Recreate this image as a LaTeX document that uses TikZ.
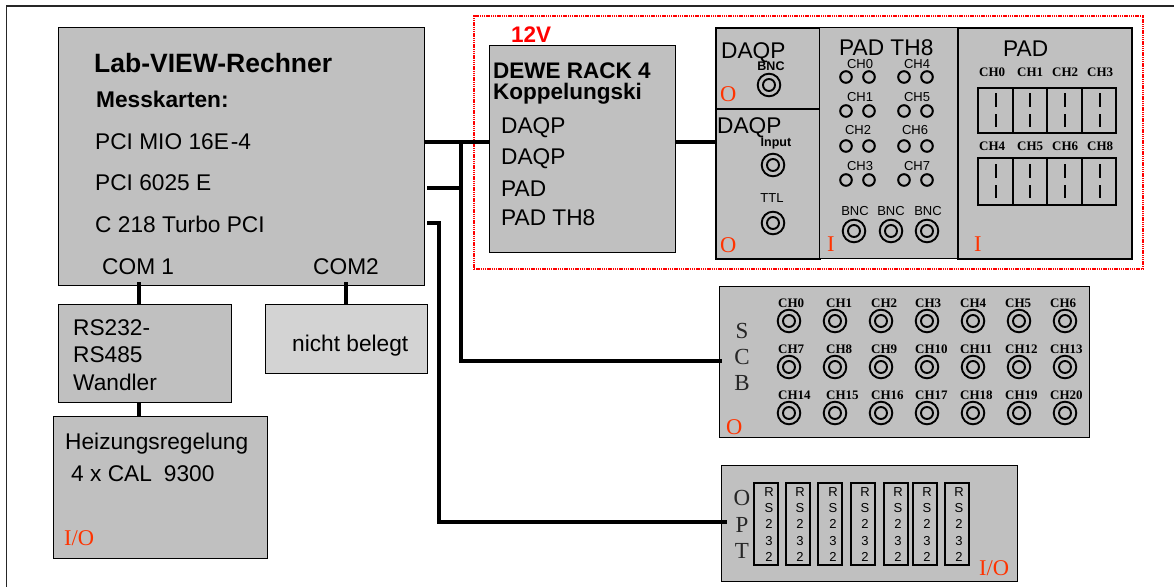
\documentclass[tikz,border=0pt]{standalone}
\usepackage{fontspec}
\setmainfont{Liberation Serif}
\setsansfont{Liberation Sans}
\usepackage{xcolor}
\usetikzlibrary{positioning}
\definecolor{panelgray}{HTML}{C0C0C0}
\definecolor{freegray}{HTML}{D3D3D3}
\definecolor{ioorange}{HTML}{FF3300}
\newcommand{\fs}[1]{\fontsize{#1}{#1}\selectfont}

\begin{document}
\begin{tikzpicture}[
  x=1pt, y=-1pt,
  box/.style = {draw=black, fill=panelgray, line width=1.3pt, inner sep=0pt,
                anchor=north west},
  thickbox/.style = {box, line width=1.9pt},
  sans/.style = {font=\sffamily\fs{#1}, text height={#1*.72pt}},
  sansbold/.style = {font=\sffamily\bfseries\fs{#1}, text height={#1*.72pt}},
  serif/.style = {font=\fs{#1}, text height={#1*.66pt}},
  serifbold/.style = {font=\bfseries\fs{#1}, text height={#1*.66pt}},
  lbl/.style = {anchor=west, inner sep=0pt, text depth=0pt, sans=22.7},
  boldlbl/.style = {lbl, sansbold=#1},
  small/.style = {anchor=center, inner sep=0pt, text depth=0pt, sans=13},
  chan/.style = {anchor=west, inner sep=0pt, text depth=0pt, serifbold=13},
  letter/.style = {anchor=center, inner sep=0pt, text depth=0pt, serif=#1, text=black!85},
  io/.style = {anchor=west, inner sep=0pt, text depth=0pt, serif=22.5, text=ioorange},
  wire/.style = {line width=3.8pt},
  jack/.pic = {\draw[line width=1.9pt] (0,0) circle (11.3) (0,0) circle (6);},
  pin/.pic = {\draw[line width=2pt] (0,0) circle (5.8);},
]

\useasboundingbox (0,0) rectangle (1174,587);

\coordinate (frameA) at (1174,6);
\coordinate (frameB) at (6.5,6);
\coordinate (frameC) at (6.5,587);
\draw[line width=1.2pt, black!85] (frameA) -- (frameB) -- (frameC);

\node[box, minimum width=366, minimum height=258] (pc) at (58,27) {};
\node[boldlbl=26.5] (pctitle) at (94,63) {Lab-VIEW-Rechner};
\node[boldlbl=22.7] (pcsub) at (96,99) {Messkarten:};
\node[lbl] (pcmio) at (95,141) {PCI MIO 16E\kern2pt-4};
\node[lbl] (pcsix) at (95,182) {PCI 6025 E};
\node[lbl] (pcturbo) at (95,224) {C 218 Turbo PCI};
\node[lbl] (pccoma) at (102,266) {COM 1};
\node[lbl] (pccomb) at (313,266) {COM2};

\node[box, minimum width=173, minimum height=98] (conv) at (58,304) {};
\node[lbl] (conva) at (73,327) {RS232-};
\node[lbl] (convb) at (73,354) {RS485};
\node[lbl] (convc) at (73,382) {Wandler};

\node[box, fill=freegray, minimum width=162, minimum height=69] (free) at (265,304) {};
\node[lbl] (freetxt) at (292,343) {nicht belegt};

\node[box, minimum width=214, minimum height=142] (heat) at (53,416) {};
\node[lbl] (heata) at (65,441) {Heizungsregelung};
\node[lbl] (heatb) at (71,473) {4 x CAL\kern12pt 9300};
\node[io] (heatio) at (64,538) {I/O};

\node[box, minimum width=186, minimum height=207] (rack) at (489,45) {};
\node[boldlbl=22.5, text=red] (volt) at (511,34) {12V};
\node[boldlbl=22.5] (racka) at (493,70) {DEWE RACK 4};
\node[boldlbl=22.5] (rackb) at (493,91) {Koppelungski};
\node[lbl] (rackc) at (501,125) {DAQP};
\node[lbl] (rackd) at (501,156) {DAQP};
\node[lbl] (racke) at (501,188) {PAD};
\node[lbl] (rackf) at (501,217) {PAD TH8};

\node[thickbox, minimum width=104, minimum height=81] (daqpa) at (715,27) {};
\node[thickbox, minimum width=104, minimum height=150] (daqpb) at (715,108) {};
\node[box, minimum width=138, minimum height=231] (th) at (819,27) {};
\node[thickbox, minimum width=174, minimum height=231] (padbox) at (957,27) {};

\node[lbl] (daqpat) at (721,50) {DAQP};
\node[small, sansbold=12.5] (daqpabnc) at (771,66) {BNC};
\pic at (769,85) {jack};
\node[io] (daqpao) at (720,94) {O};
\node[lbl] (daqpbt) at (717,125) {DAQP};
\node[small, sansbold=12.5] (daqpbin) at (776,142) {Input};
\pic at (773,165) {jack};
\node[small] (daqpbttl) at (772,198) {TTL};
\pic at (773,223) {jack};
\node[io] (daqpbo) at (720,245) {O};

\node[lbl] (tht) at (839,47.5) {PAD TH8};
\foreach \nr/\lx/\ly/\cx/\cy in {0/860/63.5/846/77, 1/860/97/846/111, 2/858/130/846/146, 3/860/166/846/180,
                                 4/917/63.5/904/77, 5/917/97/904/111, 6/915/130/904/146, 7/917/166/904/180} {
  \node[small] (thch\nr) at (\lx,\ly) {CH\nr};
  \pic at (\cx,\cy) {pin};
  \pic at (\cx+23,\cy) {pin};
}
\foreach \nr/\lx/\cx in {1/855/854, 2/891/891, 3/928/927} {
  \node[small] (thbnc\nr) at (\lx,211) {BNC};
  \pic at (\cx,231) {jack};
}
\node[io] (thio) at (827,244) {I};

\node[lbl] (padt) at (1003,48) {PAD};
\foreach \nr/\lx/\dashx/\sy in {0/979/996/0, 1/1017/1030/0, 2/1052/1065/0, 3/1087/1100/0,
                             4/979/996/71, 5/1017/1030/71, 6/1052/1065/71, 8/1087/1100/71} {
  \node[chan] (padch\nr) at (\lx,72+\sy*1.04) {CH\nr};
  \draw[line width=1.5pt] (\dashx,93+\sy) -- (\dashx,107+\sy) (\dashx,114+\sy) -- (\dashx,127+\sy);
}
\foreach \nr/\px/\bw in {1/977/35, 2/1012/34, 3/1046/35, 4/1081/34} {
  \node[thickbox, fill=none, minimum width=\bw, minimum height=45] (padrowa\nr) at (\px,87) {};
  \node[thickbox, fill=none, minimum width=\bw, minimum height=47] (padrowb\nr) at (\px,157) {};
}
\node[io] (padio) at (974,244) {I};

\node[draw=red, line width=2pt, dash pattern=on 1.4pt off .8pt, inner sep=0pt, anchor=north west,
      minimum width=669, minimum height=253] (group) at (473,15) {};

\node[box, minimum width=370, minimum height=151] (scb) at (719,286) {};
\node[letter=23] (scbs) at (742,331) {S};
\node[letter=23] (scbc) at (742,357) {C};
\node[letter=23] (scbb) at (742,383) {B};
\node[io] (scbio) at (726,427) {O};
\foreach \nr/\lx/\cx/\ly/\cy in {
  0/778/789/303/321, 1/826/835/303/321, 2/871/881/303/321, 3/915/927/303/321, 4/960/973/303/321, 5/1005/1019/303/321, 6/1050/1065/303/321,
  7/778/789/349/367, 8/826/835/349/367, 9/871/881/349/367, 10/915/927/349/367, 11/960/973/349/367, 12/1005/1019/349/367, 13/1050/1065/349/367,
  14/778/789/395/413, 15/826/835/395/413, 16/871/881/395/413, 17/915/927/395/413, 18/960/973/395/413, 19/1005/1019/395/413, 20/1050/1065/395/413} {
  \node[chan] (scbch\nr) at (\lx,\ly) {CH\nr};
  \pic at (\cx,\cy) {jack};
}

\node[box, minimum width=296, minimum height=116] (opt) at (721,465) {};
\node[letter=23] (opto) at (742,498) {O};
\node[letter=23] (optp) at (742,525) {P};
\node[letter=23] (optt) at (742,551) {T};
\node[io] (optio) at (979,568) {I/O};
\foreach \nr/\px/\tx in {1/753/769, 2/785/800, 3/817/833, 4/850/865, 5/883/898, 6/912/927, 7/944/959} {
  \node[thickbox, line width=1.5pt, fill=none, minimum width=24, minimum height=82] (port\nr) at (\px,482) {};
  \node[small] (portr\nr) at (\tx,492) {R};
  \node[small] (ports\nr) at (\tx,508) {S};
  \node[small] (porta\nr) at (\tx,524) {2};
  \node[small] (portb\nr) at (\tx,541) {3};
  \node[small] (portc\nr) at (\tx,557) {2};
}

\coordinate (pcouta) at (pc.east |- 0,142);
\coordinate (branch) at (461,142);
\coordinate (pcoutb) at (427,188);
\coordinate (stub) at (branch |- pcoutb);
\coordinate (pcoutc) at (427,223);
\coordinate (bendc) at (439,223);
\coordinate (scbin) at (722,361);
\coordinate (optin) at (727,522);
\coordinate (coma) at (139,282);
\coordinate (comb) at (346,282);

\draw[wire] (pcouta) -- (rack.west |- pcouta);
\draw[wire] (rack.east |- pcouta) -- (daqpb.west |- pcouta);
\draw[wire] (branch) |- (scbin);
\draw[wire] (pcoutb) -- (stub);
\draw[wire] (pcoutc) -- (bendc) |- (optin);
\draw[wire] (coma) -- (conv.north -| coma);
\draw[wire] (comb) -- (free.north -| comb);
\draw[wire] (conv.south -| coma) -- (heat.north -| coma);

\end{tikzpicture}
\end{document}
